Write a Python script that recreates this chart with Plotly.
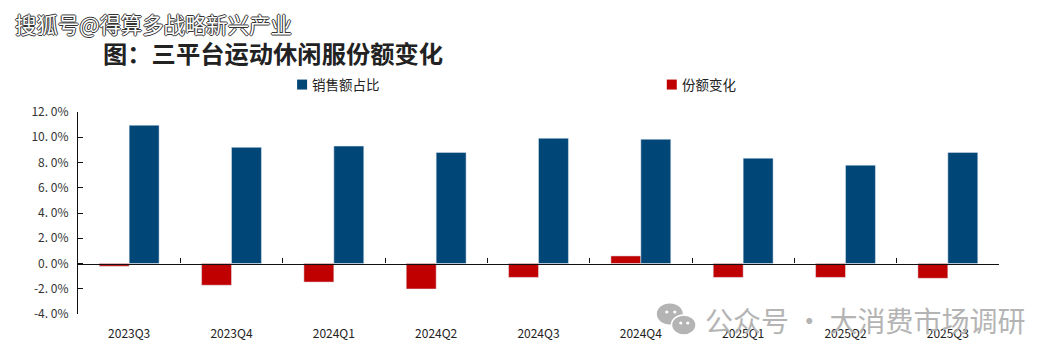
import plotly.graph_objects as go

categories = ["2023Q3","2023Q4","2024Q1","2024Q2","2024Q3","2024Q4","2025Q1","2025Q2","2025Q3"]
share_change = [-0.22,-1.72,-1.47,-2.02,-1.1,0.6,-1.1,-1.1,-1.17]
sales_share = [10.95,9.2,9.3,8.8,9.92,9.84,8.34,7.79,8.8]
y_ticks = [-4,-2,0,2,4,6,8,10,12]
y_labels = ["-4. 0%","-2. 0%","0. 0%","2. 0%","4. 0%","6. 0%","8. 0%","10. 0%","12. 0%"]
series_names = ["销售额占比","份额变化"]

# the page body has an 8px margin, so the figure starts at (8, 8) of the window
M = 8
W,H = 1058-M,363-M
L,T = 77.7-M,111.5-M
R,B = 999.5-M,314-M
PW,PH = R-L,B-T
def px(x): return (x-M-L)/PW
def py(y): return (B-(y-M))/PH
FONT = "Noto Sans CJK SC"
BLUE,RED,GREY = "#004677","#C00000","#B4B4B4"

fig = go.Figure()
fig.add_bar(x=categories,y=share_change,name=series_names[1],marker_color=RED,offsetgroup="a",showlegend=False)
fig.add_bar(x=categories,y=sales_share,name=series_names[0],marker_color=BLUE,offsetgroup="b",showlegend=False)
fig.add_bar(x=categories,y=[None]*len(categories),xaxis="x2",showlegend=False,hoverinfo="skip")

fig.update_layout(
    width=W,height=H,autosize=False,
    margin=dict(l=L,r=W-R,t=T,b=H-B,pad=0),
    paper_bgcolor="white",plot_bgcolor="white",
    barmode="group",bargap=0.415,bargroupgap=0,
    font=dict(family=FONT,size=12,color="#222222"),
    xaxis=dict(type="category",categoryorder="array",categoryarray=categories,
               range=[-0.5,8.5],anchor="free",position=0.25,
               showline=True,linecolor="#111111",linewidth=1.3,
               ticks="inside",ticklen=5,tickwidth=1,tickcolor="#111111",
               tickson="boundaries",showticklabels=False,showgrid=False,zeroline=False),
    xaxis2=dict(type="category",categoryorder="array",categoryarray=categories,
                range=[-0.5,8.5],overlaying="x",anchor="y",side="bottom",
                showline=False,ticks="",showgrid=False,zeroline=False,
                tickfont=dict(size=12,color="#222222",family=FONT),ticklabelstandoff=11),
    yaxis=dict(range=[-4,12],tickvals=y_ticks,ticktext=y_labels,
               showline=True,linecolor="#111111",linewidth=1.3,
               ticks="inside",ticklen=5,tickwidth=1,tickcolor="#111111",
               showgrid=False,zeroline=False,tickfont=dict(size=12,color="#333333",family=FONT),
               ticklabelstandoff=6),
    showlegend=False,
)

def note(text,x,y,size,color,xanchor="left",**font):
    fig.add_annotation(text=text,xref="paper",yref="paper",x=px(x),y=py(y),showarrow=False,
                       xanchor=xanchor,yanchor="middle",
                       font=dict(family=FONT,size=size,color=color,**font))

note("<b>图：三平台运动休闲服份额变化</b>",101,52,24.3,"#222222")
note("搜狐号@得算多战略新兴产业",13,22.5,21.4,"white",
     shadow="1px 0 0 #333,-1px 0 0 #333,0 1px 0 #333,0 -1px 0 #333")
note("公众号 · 大消费市场调研",703,320,28,GREY)

# legend keys sit closer to their labels than plotly's own legend allows
for name,color,x in [(series_names[0],BLUE,297),(series_names[1],RED,667)]:
    fig.add_shape(type="rect",xref="paper",yref="paper",x0=px(x),x1=px(x+10),y0=py(89),y1=py(79),
                  fillcolor=color,line=dict(width=0))
    note(name,x+13,83,13.5,"#222222")

def ell(cx,cy,rx,ry,color,line=None):
    fig.add_shape(type="circle",xref="paper",yref="paper",layer="above",
                  x0=px(cx-rx),x1=px(cx+rx),y0=py(cy+ry),y1=py(cy-ry),
                  fillcolor=color,line=dict(color=line or color,width=1.5 if line else 0))
ell(670,314,13,10.5,GREY)
ell(684,325,12.3,10,GREY,"white")
for cx,cy in [(667,312),(675,312),(681,323),(688,323)]:
    ell(cx,cy,1.6,1.6,"white")

fig.write_html("out.html")
